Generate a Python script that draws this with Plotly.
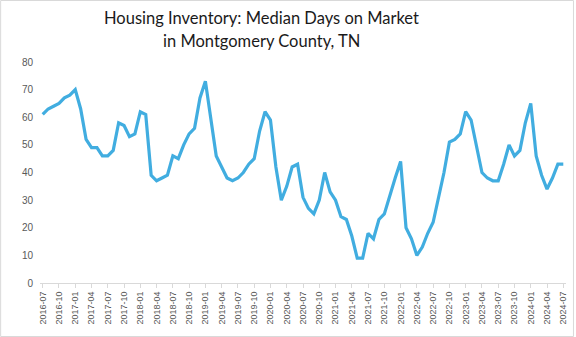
import plotly.graph_objects as go

months = []
for y in range(2016, 2025):
    for m in range(1, 13):
        if (y == 2016 and m < 7) or (y == 2024 and m > 7):
            continue
        months.append(f"{y}-{m:02d}")

days_on_market = [
    61, 63, 64, 65, 67, 68,                              # 2016-07..12
    70, 63, 52, 49, 49, 46, 46, 48, 58, 57, 53, 54,      # 2017
    62, 61, 39, 37, 38, 39, 46, 45, 50, 54, 56, 67,      # 2018
    73, 59, 46, 42, 38, 37, 38, 40, 43, 45, 55, 62,      # 2019
    59, 42, 30, 35, 42, 43, 31, 27, 25, 30, 40, 33,      # 2020
    30, 24, 23, 17, 9, 9, 18, 16, 23, 25, 32, 38,        # 2021
    44, 20, 16, 10, 13, 18, 22, 31, 40, 51, 52, 54,      # 2022
    62, 59, 49, 40, 38, 37, 37, 43, 50, 46, 48, 58,      # 2023
    65, 46, 39, 34, 38, 43, 43,                          # 2024-01..07
]

title_lines = ["Housing Inventory: Median Days on Market", "in Montgomery County, TN"]
tick_labels = months[::3]
y_ticks = [0, 10, 20, 30, 40, 50, 60, 70, 80]

W, H = 576, 337
ML, MR, MT, MB = 40, 8, 62, 54
PW, PH = W - ML - MR, H - MT - MB

fig = go.Figure()
fig.add_trace(go.Scatter(
    x=list(range(len(months))), y=days_on_market, mode="lines",
    line=dict(color="#41ade0", width=3.2),
    hoverinfo="skip", showlegend=False,
))

title_annots = []
for line, py in zip(title_lines, [17.5, 41]):
    title_annots.append(dict(
        text=line, xref="paper", yref="paper",
        x=(262 - ML) / PW, y=(H - MB - py) / PH,
        xanchor="center", yanchor="middle", showarrow=False,
        font=dict(family="Lato", size=16.5, color="#1a1a1a"),
    ))

fig.update_layout(
    width=W, height=H,
    margin=dict(l=ML, r=MR, t=MT, b=MB),
    paper_bgcolor="white", plot_bgcolor="white",
    xaxis=dict(
        range=[-0.5, len(months) - 0.5],
        tickmode="array",
        tickvals=list(range(0, len(months), 3)),
        ticktext=tick_labels,
        tickangle=-90,
        tickfont=dict(family="Liberation Sans", size=9, color="#595959"),
        showgrid=False, zeroline=False,
        showline=True, linecolor="#d9d9d9", linewidth=1,
        ticks="outside", ticklen=4, tickcolor="#d9d9d9",
    ),
    yaxis=dict(
        range=[0, 80],
        tickmode="array", tickvals=y_ticks,
        tickfont=dict(family="Liberation Sans", size=10, color="#595959"),
        showgrid=False, zeroline=False, showline=False,
        ticks="", ticklabelstandoff=6,
    ),
    annotations=title_annots,
    shapes=[dict(
        type="rect", xref="paper", yref="paper",
        x0=-(ML - 0.5) / PW, x1=1 + (MR - 0.5) / PW,
        y0=-(MB - 0.5) / PH, y1=1 + (MT - 0.5) / PH,
        line=dict(color="#d9d9d9", width=1), layer="below",
    )],
)

fig.write_html("out.html")
